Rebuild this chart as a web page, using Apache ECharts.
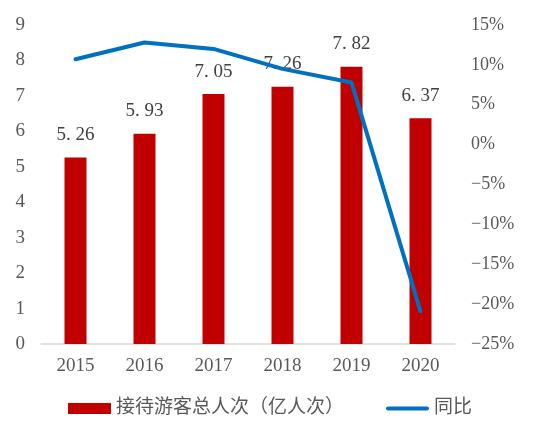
<!DOCTYPE html>
<html>
<head>
<meta charset="utf-8">
<script src="https://cdn.jsdelivr.net/npm/echarts@6/dist/echarts.min.js"></script>
<style>
  html, body { margin: 0; padding: 0; background: #fff; }
  #chart { width: 551px; height: 425px; }
</style>
</head>
<body>
<div id="chart"></div>
<script>
// 年份
const years = ['2015', '2016', '2017', '2018', '2019', '2020'];
// 接待游客总人次（亿人次）
const visitors = [5.26, 5.93, 7.05, 7.26, 7.82, 6.37];
// 同比（%）
const yoy = [10.7, 12.8, 12.0, 9.5, 7.8, -20.9];

const font = "'Liberation Serif', 'Noto Sans CJK SC', serif";
const grey = '#595959';

const chart = echarts.init(document.getElementById('chart'));
chart.setOption({
  animation: false,
  grid: { left: 41, right: 96, top: 25, bottom: 81 },
  legend: {
    bottom: 2,
    left: 63,
    itemGap: 42,
    itemWidth: 43,
    itemHeight: 11,
    textStyle: { fontFamily: font, fontSize: 19, color: grey },
    data: [
      { name: '接待游客总人次（亿人次）', icon: 'rect' },
      // 粗线图例
      { name: '同比', icon: 'path://M2,0 H42 A2,2 0 0 1 42,4 H2 A2,2 0 0 1 2,0 Z' }
    ]
  },
  xAxis: {
    type: 'category',
    data: years,
    axisTick: { show: false },
    axisLine: { lineStyle: { color: '#D9D9D9', width: 1.5 } },
    axisLabel: { fontFamily: font, fontSize: 19, color: grey, margin: 13 }
  },
  yAxis: [
    {
      type: 'value',
      min: 0, max: 9, interval: 1,
      splitLine: { show: false },
      axisLine: { show: false },
      axisLabel: { fontFamily: font, fontSize: 19, color: grey, margin: 16 }
    },
    {
      type: 'value',
      min: -25, max: 15, interval: 5,
      splitLine: { show: false },
      axisLine: { show: false },
      axisLabel: {
        fontFamily: font, fontSize: 18, color: grey, margin: 16,
        formatter: v => (v < 0 ? '−' + Math.abs(v) : v) + '%'
      }
    }
  ],
  series: [
    {
      name: '接待游客总人次（亿人次）',
      type: 'bar',
      data: visitors,
      barWidth: 22,
      itemStyle: { color: '#C00000' },
      label: {
        show: true,
        position: 'top',
        distance: 13,
        fontFamily: font,
        fontSize: 19,
        color: '#404040',
        formatter: p => p.value.toFixed(2).replace('.', '. ')
      }
    },
    {
      name: '同比',
      type: 'line',
      yAxisIndex: 1,
      data: yoy,
      symbol: 'none',
      lineStyle: { color: '#0070C0', width: 4, cap: 'round' },
      itemStyle: { color: '#0070C0' }
    }
  ]
});
</script>
</body>
</html>
